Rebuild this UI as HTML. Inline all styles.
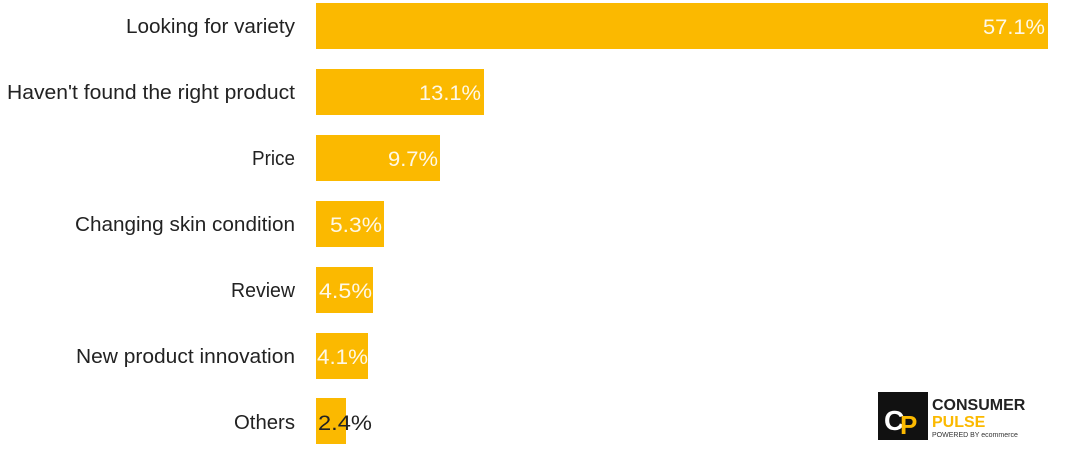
<!DOCTYPE html>
<html><head><meta charset="utf-8"><style>
html,body{margin:0;padding:0;background:#fff;width:1080px;height:449px;overflow:hidden}
svg text{font-family:"Liberation Sans","DejaVu Sans",sans-serif}
</style></head><body>
<svg width="1080" height="449" viewBox="0 0 1080 449" xmlns="http://www.w3.org/2000/svg">
<g fill="#FBB900">
<rect x="316" y="3" width="732" height="46"/>
<rect x="316" y="69" width="168" height="46"/>
<rect x="316" y="135" width="124" height="46"/>
<rect x="316" y="201" width="68" height="46"/>
<rect x="316" y="267" width="57" height="46"/>
<rect x="316" y="333" width="52" height="46"/>
<rect x="316" y="398" width="30" height="46"/>
</g>
<g font-size="20" fill="#222" text-anchor="end">
<text x="295" y="33" textLength="169" lengthAdjust="spacingAndGlyphs">Looking for variety</text>
<text x="295" y="99" textLength="288" lengthAdjust="spacingAndGlyphs">Haven't found the right product</text>
<text x="295" y="165" textLength="43" lengthAdjust="spacingAndGlyphs">Price</text>
<text x="295" y="231" textLength="220" lengthAdjust="spacingAndGlyphs">Changing skin condition</text>
<text x="295" y="297" textLength="64" lengthAdjust="spacingAndGlyphs">Review</text>
<text x="295" y="363" textLength="219" lengthAdjust="spacingAndGlyphs">New product innovation</text>
<text x="295" y="429" textLength="61" lengthAdjust="spacingAndGlyphs">Others</text>
</g>
<g font-size="21.5" fill="#fff" text-anchor="end" opacity="0.9" style="font-weight:300">
<text x="1045" y="34" textLength="62" lengthAdjust="spacingAndGlyphs">57.1%</text>
<text x="481" y="100" textLength="62" lengthAdjust="spacingAndGlyphs">13.1%</text>
<text x="438" y="166" textLength="50" lengthAdjust="spacingAndGlyphs">9.7%</text>
<text x="382" y="232" textLength="52" lengthAdjust="spacingAndGlyphs">5.3%</text>
<text x="372" y="298" textLength="53" lengthAdjust="spacingAndGlyphs">4.5%</text>
<text x="368" y="364" textLength="51" lengthAdjust="spacingAndGlyphs">4.1%</text>
</g>
<text x="318" y="430" font-size="21.5" fill="#222" textLength="54" lengthAdjust="spacingAndGlyphs">2.4%</text>
<g>
<rect x="878" y="392" width="50" height="48" fill="#111"/>
<text x="884" y="430" font-size="28" font-weight="bold" fill="#fff">C</text>
<text x="900" y="434" font-size="26" font-weight="bold" fill="#FBB900">P</text>
<text x="932" y="410" font-size="16" font-weight="bold" fill="#222">CONSUMER</text>
<text x="932" y="427" font-size="16" font-weight="bold" fill="#FBB900">PULSE</text>
<text x="932" y="437" font-size="7" fill="#333">POWERED BY ecommerce</text>
</g>
</svg>
</body></html>
